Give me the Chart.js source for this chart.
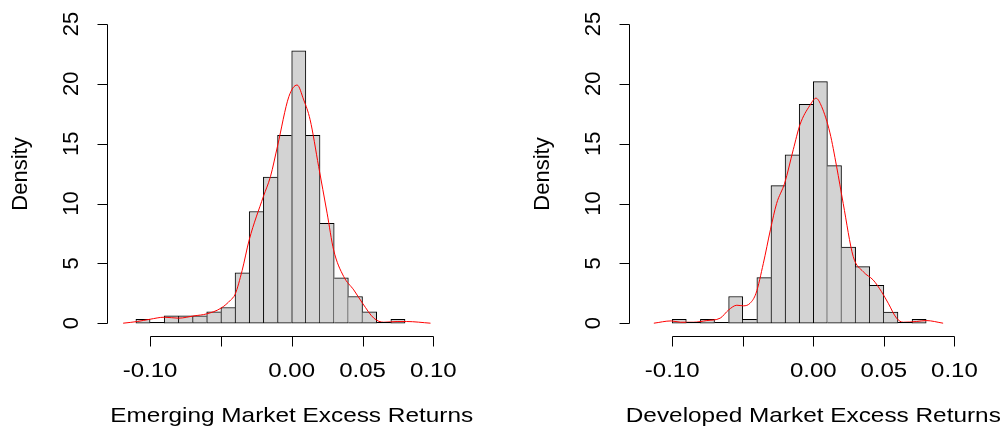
<!DOCTYPE html>
<html>
<head>
<meta charset="utf-8">
<script src="https://cdn.jsdelivr.net/npm/chart.js@4"></script>
<style>
  body { margin: 0; background: #fff; }
  #wrap { position: relative; width: 1006px; height: 427px; }
  canvas { position: absolute; top: 0; }
  #emChart { left: 0; }
  #dmChart { left: 503px; }
</style>
</head>
<body>
<div id="wrap">
  <canvas id="emChart" width="503" height="427"></canvas>
  <canvas id="dmChart" width="503" height="427"></canvas>
</div>
<script>
// histogram bins (centres, width 0.01) and densities
const emBinCenters = [-0.105, -0.095, -0.085, -0.075, -0.065, -0.055, -0.045, -0.035, -0.025, -0.015,
  -0.005, 0.005, 0.015, 0.025, 0.035, 0.045, 0.055, 0.065, 0.075];
const emDensity = [0.33, 0, 0.61, 0.61, 0.61, 0.95, 1.31, 4.2, 9.33, 12.2,
  15.7, 22.75, 15.7, 8.35, 3.8, 2.23, 0.95, 0, 0.33];

const dmBinCenters = [-0.095, -0.085, -0.075, -0.065, -0.055, -0.045, -0.035, -0.025, -0.015,
  -0.005, 0.005, 0.015, 0.025, 0.035, 0.045, 0.055, 0.065, 0.075];
const dmDensity = [0.33, 0, 0.33, 0, 2.23, 0.33, 3.81, 11.5, 14.06,
  18.29, 20.18, 13.17, 6.35, 4.73, 3.17, 0.92, 0, 0.33];

// kernel density curves (red)
const emCurveX = [-0.119, -0.109, -0.100, -0.090, -0.080, -0.069, -0.060, -0.050, -0.043, -0.040, -0.035,
  -0.030, -0.020, -0.015, -0.010, -0.002, 0.0038, 0.0085, 0.013, 0.019, 0.025, 0.0296, 0.0367, 0.0438,
  0.050, 0.058, 0.065, 0.0744, 0.081, 0.098];
const emCurveY = [0, 0.14, 0.33, 0.5, 0.42, 0.61, 0.78, 1.25, 1.95, 2.4, 4.4,
  6.96, 10.58, 12.25, 14.8, 18.93, 19.9, 18.65, 17.0, 13.1, 9.19, 6.12, 3.9, 2.78,
  1.67, 0.42, 0.08, 0.14, 0.14, 0];

const dmCurveX = [-0.113, -0.1007, -0.094, -0.085, -0.0755, -0.066, -0.060, -0.0542, -0.0495, -0.0448,
  -0.0406, -0.0354, -0.0304, -0.026, -0.0203, -0.0142, -0.0094, -0.0024, 0.0019, 0.0059, 0.0118,
  0.0165, 0.0212, 0.0283, 0.0354, 0.0425, 0.0483, 0.0531, 0.059, 0.0637, 0.073, 0.080, 0.092];
const dmCurveY = [0, 0.19, 0.08, 0.08, 0.22, 0.42, 1.11, 1.5, 1.45, 1.67,
  2.5, 5.0, 7.8, 10.0, 11.7, 14.5, 16.6, 18.2, 18.8, 18.1, 15.9,
  13.1, 10.0, 5.57, 4.3, 3.6, 2.64, 1.67, 0.42, 0.08, 0.14, 0.22, 0];

const yTicks = [0, 5, 10, 15, 20, 25];
const xTicks = [-0.10, -0.05, 0, 0.05, 0.10];
const xTickLabels = ["-0.10", "", "0.00", "0.05", "0.10"]; // R drops the -0.05 label

// R-style axes: lines only span the ticks, vertical y labels
const rAxes = {
  id: "rAxes",
  afterDraw(chart, args, opts) {
    const { ctx, chartArea: a, scales: { x, y } } = chart;
    const left = Math.round(a.left) + 0.5;
    const bottom = Math.round(a.bottom) + 0.5;
    ctx.save();
    ctx.strokeStyle = "#000";
    ctx.fillStyle = "#000";
    ctx.lineWidth = 1;

    // empty bins still get a line on the baseline, like hist() does
    ctx.beginPath();
    chart.getDatasetMeta(1).data.forEach((bar, i) => {
      if (opts.density[i] !== 0) return;
      const py = Math.round(bar.base) - 0.5;
      ctx.moveTo(bar.x - bar.width / 2, py);
      ctx.lineTo(bar.x + bar.width / 2, py);
    });

    // y axis
    ctx.moveTo(left, Math.round(y.getPixelForValue(yTicks[0])) + 0.5);
    ctx.lineTo(left, Math.round(y.getPixelForValue(yTicks[yTicks.length - 1])) + 0.5);
    yTicks.forEach(t => {
      const py = Math.round(y.getPixelForValue(t)) + 0.5;
      ctx.moveTo(left, py);
      ctx.lineTo(left - 10, py);
    });
    // x axis
    ctx.moveTo(Math.round(x.getPixelForValue(xTicks[0])) + 0.5, bottom);
    ctx.lineTo(Math.round(x.getPixelForValue(xTicks[xTicks.length - 1])) + 0.5, bottom);
    xTicks.forEach(t => {
      const px = Math.round(x.getPixelForValue(t)) + 0.5;
      ctx.moveTo(px, bottom);
      ctx.lineTo(px, bottom + 10);
    });
    ctx.stroke();

    // y tick labels, rotated
    ctx.font = '22px "Liberation Sans", Arial, sans-serif';
    ctx.textAlign = "center";
    ctx.textBaseline = "alphabetic";
    yTicks.forEach(t => {
      ctx.save();
      ctx.translate(a.left - 29, y.getPixelForValue(t));
      ctx.rotate(-Math.PI / 2);
      ctx.fillText(String(t), 0, 0);
      ctx.restore();
    });
    ctx.save();
    ctx.translate(a.left - 80, (a.top + a.bottom) / 2);
    ctx.rotate(-Math.PI / 2);
    ctx.fillText("Density", 0, 0);
    ctx.restore();

    // x tick labels
    ctx.font = '20px "Liberation Sans", Arial, sans-serif';
    xTicks.forEach((t, i) => {
      if (!xTickLabels[i]) return;
      ctx.save();
      ctx.translate(x.getPixelForValue(t), 377);
      ctx.scale(1.2, 1);
      ctx.fillText(xTickLabels[i], 0, 0);
      ctx.restore();
    });

    // x title
    ctx.font = '21px "Liberation Sans", Arial, sans-serif';
    ctx.save();
    ctx.translate((a.left + a.right) / 2, 422);
    ctx.scale(1.16, 1);
    ctx.fillText(opts.title, 0, 0);
    ctx.restore();
    ctx.restore();
  }
};

// one 1px edge between neighbouring bars: the taller bar owns the shared side
function barBorder(values) {
  return (c) => {
    const i = c.dataIndex;
    const v = values[i];
    const prev = i > 0 ? values[i - 1] : 0;
    const next = i < values.length - 1 ? values[i + 1] : 0;
    return { top: 1, bottom: 1, left: prev <= v ? 1 : 0, right: next < v ? 1 : 0 };
  };
}

function makeHist(id, binCenters, density, curveX, curveY, padLeft, padRight, title) {
  const ctx = document.getElementById(id).getContext("2d");
  return new Chart(ctx, {
    type: "bar",
    data: {
      datasets: [
        {
          type: "line",
          data: curveX.map((v, i) => ({ x: v, y: curveY[i] })),
          borderColor: "#ff0000",
          borderWidth: 1,
          pointRadius: 0,
          cubicInterpolationMode: "monotone",
          order: 0
        },
        {
          type: "bar",
          data: binCenters.map((v, i) => ({ x: v, y: density[i] })),
          backgroundColor: "#d3d3d3",
          borderColor: "#000",
          borderWidth: barBorder(density),
          borderSkipped: false,
          barPercentage: 1,
          categoryPercentage: 1,
          order: 1
        }
      ]
    },
    options: {
      responsive: false,
      devicePixelRatio: 1,
      animation: false,
      layout: { padding: { left: padLeft, right: padRight, top: 12, bottom: 91 } },
      plugins: {
        legend: { display: false },
        tooltip: { enabled: false },
        rAxes: { title: title, density: density }
      },
      scales: {
        x: { type: "linear", min: -0.1304, max: 0.1304, offset: false, display: false },
        y: { type: "linear", min: -1.07, max: 26, display: false }
      }
    },
    plugins: [rAxes]
  });
}

makeHist("emChart", emBinCenters, emDensity, emCurveX, emCurveY, 107, 26.6, "Emerging Market Excess Returns");
makeHist("dmChart", dmBinCenters, dmDensity, dmCurveX, dmCurveY, 126.3, 8.7, "Developed Market Excess Returns");
</script>
</body>
</html>
